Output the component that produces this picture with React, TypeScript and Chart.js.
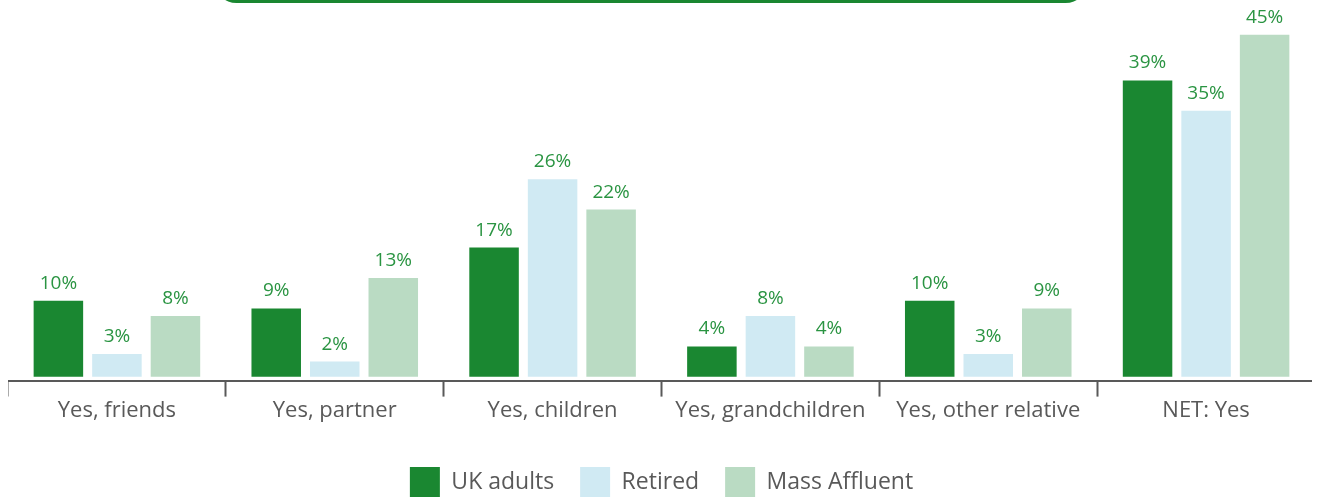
import React, { useEffect, useRef } from "react";
import { Chart, registerables } from "chart.js";

Chart.register(...registerables);

const categories = [
  "Yes, friends",
  "Yes, partner",
  "Yes, children",
  "Yes, grandchildren",
  "Yes, other relative",
  "NET: Yes",
];
const seriesNames = ["UK adults", "Retired", "Mass Affluent"];
const ukAdults = [10, 9, 17, 4, 10, 39];
const retired = [3, 2, 26, 8, 3, 35];
const massAffluent = [8, 13, 22, 4, 9, 45];
const seriesColors = ["#1a8731", "#d0eaf3", "#badbc3"];

const FONT = "'Open Sans', 'Noto Sans', sans-serif";

const valueLabels = {
  id: "valueLabels",
  afterDatasetsDraw(chart: any) {
    const ctx = chart.ctx;
    ctx.save();
    ctx.font = `19px ${FONT}`;
    ctx.fillStyle = "#2a9442";
    ctx.textAlign = "center";
    ctx.textBaseline = "bottom";
    chart.data.datasets.forEach((ds: any, di: number) => {
      const meta = chart.getDatasetMeta(di);
      meta.data.forEach((bar: any, i: number) => {
        ctx.fillText(`${ds.data[i]}%`, bar.x, bar.y - 8);
      });
    });
    ctx.restore();
  },
};

export default function App() {
  const ref = useRef<HTMLCanvasElement | null>(null);
  useEffect(() => {
    if (!ref.current) return;
    document.body.style.overflow = "hidden";
    const data = [ukAdults, retired, massAffluent];
    const chart = new Chart(ref.current, {
      type: "bar",
      data: {
        labels: categories,
        datasets: seriesNames.map((name, i) => ({
          label: name,
          data: data[i],
          backgroundColor: seriesColors[i],
          borderWidth: 0,
          barPercentage: 0.846,
          categoryPercentage: 0.806,
        })),
      },
      options: {
        responsive: false,
        animation: false,
        layout: { padding: { top: 4, right: 5, left: 0, bottom: 0 } },
        plugins: {
          tooltip: { enabled: false },
          legend: {
            position: "bottom",
            labels: {
              boxWidth: 30,
              boxHeight: 30,
              padding: 26,
              color: "#595959",
              font: { family: FONT, size: 23 },
            },
          },
        },
        scales: {
          x: {
            grid: {
              display: true,
              drawOnChartArea: false,
              drawTicks: true,
              tickLength: 16,
              tickColor: "#595959",
              tickWidth: 2,
              offset: true,
            },
            border: { display: true, color: "#595959", width: 2 },
            ticks: {
              color: "#595959",
              padding: 1,
              font: { family: FONT, size: 22 },
              maxRotation: 0,
              autoSkip: false,
            },
            afterFit: (scale: any) => {
              scale.height += 16;
            },
          },
          y: {
            display: false,
            min: -0.5,
            max: 48,
          },
        },
      },
      plugins: [valueLabels],
    });
    return () => chart.destroy();
  }, []);

  return (
    <div style={{ position: "relative", width: 1312, height: 499 }}>
      <div
        style={{
          position: "fixed",
          left: 215,
          top: -40,
          width: 872,
          height: 43,
          boxSizing: "border-box",
          border: "3px solid #1a8731",
          borderRadius: 24,
          zIndex: 2,
          pointerEvents: "none",
        }}
      />
      <canvas ref={ref} width={1312} height={499} style={{ display: "block" }} />
    </div>
  );
}
